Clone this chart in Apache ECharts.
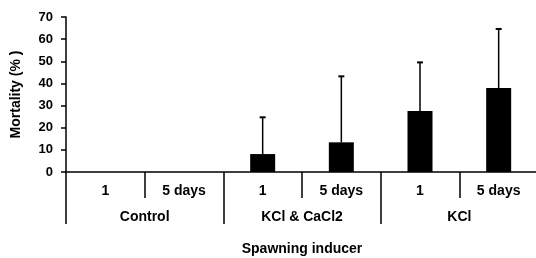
<!DOCTYPE html>
<html>
<head>
<meta charset="utf-8">
<script src="https://cdn.jsdelivr.net/npm/echarts@6/dist/echarts.min.js"></script>
<style>
  html, body { margin: 0; padding: 0; background: #fff; }
  #chart { width: 536px; height: 258px; }
</style>
</head>
<body>
<div id="chart"></div>
<script>
// data
const durations = ["1", "5 days", "1", "5 days", "1", "5 days"];
const inducers = ["Control", "KCl & CaCl2", "KCl"];
const mortality = [0, 0, 8.1, 13.4, 27.5, 37.9];
const errorTop = [0, 0, 24.7, 43.2, 49.5, 64.6];

const font = "Liberation Sans, Arial, sans-serif";

let chart = echarts.init(document.getElementById("chart"));

let errorData = durations.map((d, i) => [i, mortality[i], errorTop[i]]);

let option = {
    animation: false,
    textStyle: { fontFamily: font, fontWeight: "bold", color: "#000" },
    grid: {
        left: 66,
        top: 17,
        right: -2,
        bottom: 86,
        containLabel: false,
        outerBoundsMode: "none",
    },
    xAxis: [
        {
            type: "category",
            data: durations,
            boundaryGap: true,
            axisLine: { lineStyle: { color: "#000", width: 1.5 } },
            axisTick: {
                show: true,
                interval: 0,
                alignWithLabel: false,
                length: 26,
                lineStyle: { color: "#000", width: 1.5 },
            },
            axisLabel: {
                color: "#000",
                fontWeight: "bold",
                fontSize: 14,
                margin: 12,
            },
        },
        {
            type: "category",
            data: inducers,
            boundaryGap: true,
            position: "bottom",
            axisLine: { show: false },
            axisTick: {
                show: true,
                interval: 0,
                alignWithLabel: false,
                length: 52,
                lineStyle: { color: "#000", width: 1.5 },
            },
            axisLabel: {
                color: "#000",
                fontWeight: "bold",
                fontSize: 14,
                margin: 38,
            },
            name: "Spawning inducer",
            nameLocation: "middle",
            nameGap: 70,
            nameTextStyle: { color: "#000", fontWeight: "bold", fontSize: 14 },
        },
    ],
    yAxis: {
        type: "value",
        min: 0,
        max: 70,
        interval: 10,
        splitLine: { show: false },
        axisLine: { show: true, lineStyle: { color: "#000", width: 1.5 } },
        axisTick: { show: true, length: 5, lineStyle: { color: "#000", width: 1.5 } },
        axisLabel: { color: "#000", fontWeight: "bold", fontSize: 13, margin: 13 },
        name: "Mortality (% )",
        nameLocation: "middle",
        nameRotate: 90,
        nameGap: 43,
        nameTextStyle: { color: "#000", fontWeight: "bold", fontSize: 14 },
    },
    series: [
        {
            type: "bar",
            data: mortality,
            barWidth: 25,
            itemStyle: { color: "#000" },
            z: 2,
        },
        {
            type: "custom",
            data: errorData,
            z: 3,
            renderItem: function (params, api) {
                if (api.value(2) <= 0) return;
                let base = api.coord([api.value(0), api.value(1)]);
                let top = api.coord([api.value(0), api.value(2)]);
                let style = { stroke: "#000", lineWidth: 1.5 };
                return {
                    type: "group",
                    children: [
                        {
                            type: "line",
                            shape: { x1: top[0], y1: base[1], x2: top[0], y2: top[1] },
                            style: style,
                        },
                        {
                            type: "line",
                            shape: { x1: top[0] - 3, y1: top[1], x2: top[0] + 3, y2: top[1] },
                            style: { stroke: "#000", lineWidth: 2 },
                        },
                    ],
                };
            },
        },
    ],
};

chart.setOption(option);
</script>
</body>
</html>
